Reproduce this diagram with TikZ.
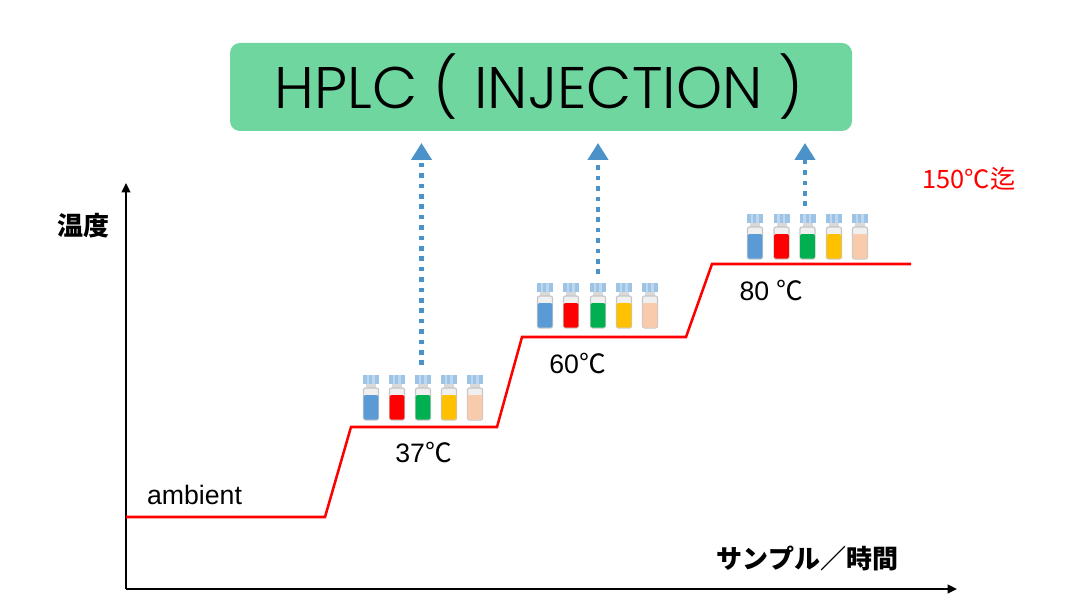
\documentclass[tikz,border=0pt]{standalone}
\usepackage{fontspec}
\setmainfont{Liberation Sans}
\newfontfamily\cjk{Noto Sans CJK JP}
\newfontfamily\hplcfont{Poppins Light}
\usetikzlibrary{positioning,arrows.meta}
\definecolor{hplcgreen}{HTML}{70D6A0}
\definecolor{dotblue}{HTML}{4A92C8}
\definecolor{capblue}{HTML}{9DC3E6}
\definecolor{capstripe}{HTML}{BDD7EE}
\definecolor{vialblue}{HTML}{5B9BD5}
\definecolor{vialred}{HTML}{FF0000}
\definecolor{vialgreen}{HTML}{00B050}
\definecolor{vialyellow}{HTML}{FFC000}
\definecolor{vialpeach}{HTML}{F8CBAD}
\tikzstyle{hplcbox}=[rectangle, rounded corners=7.5pt, fill=hplcgreen, minimum width=466.5pt,
                    minimum height=66pt, inner sep=0pt, text centered]
\tikzstyle{axis}=[-{Triangle[width=6.5pt,length=7pt]}, black, line width=1.5pt]
\tikzstyle{rampline}=[-, red, line width=1.9pt, line join=miter]
\tikzstyle{injline}=[-{Triangle[width=15pt,length=12.75pt]}, dotblue, line width=3.6pt,
                    dash pattern=on 3.5pt off 4.3pt]
\tikzstyle{templabel}=[inner sep=0pt, font=\fontsize{20}{22}\selectfont]
\tikzstyle{axislabel}=[inner sep=0pt, font=\cjk\bfseries\fontsize{19.5}{22}\selectfont]
\tikzset{
  vial/.pic={
    \fill[capblue] (-8,-45) rectangle (8,-36);
    \fill[capstripe] (-4.5,-45) rectangle (-2,-36);
    \fill[capstripe] (1,-45) rectangle (3.5,-36);
    \fill[gray!30] (-5,-36) rectangle (5,-31);
    \draw[gray!45, fill=gray!12, line width=.9pt, rounded corners=1.5pt] (-7.5,-32) rectangle (7.5,0);
    \fill[#1, rounded corners=1pt] (-7.3,-25) rectangle (7.3,-.5);
  }
}
\begin{document}
\begin{tikzpicture}[x=0.75pt,y=-0.75pt]
\useasboundingbox (0,0) rectangle (1084,599);

\node (HPLC) [hplcbox] at (541,87) {\hspace*{-3pt}\hplcfont\fontsize{44}{48}\selectfont HPLC ( INJECTION )};

% axes
\coordinate (ORIGIN) at (126,589);
\coordinate (YEND) at (126,183);
\coordinate (XEND) at (957,589);
\draw[axis] (ORIGIN) -- (YEND);
\draw[axis] (ORIGIN) -- (XEND);
\node (YLABEL) [axislabel] at (83,226) {温度};
\node (XLABEL) [axislabel] at (807.5,558) {サンプル／時間};

% temperature steps
\coordinate (START) at (126,517);
\coordinate (FINISH) at (911,264);
\draw[rampline] (START) -- (325,517) -- (351,427) -- (497,427) -- (522,337) -- (686,337) -- (712,264) -- (FINISH);

\node (AMB) [templabel] at (194.5,495) {ambient};
\node (TA) [templabel] at (423.5,452) {37\cjk℃};
\node (TB) [templabel] at (577.5,363) {60\cjk℃};
\node (TC) [templabel] at (771.5,290) {80 \cjk℃};
\node (TMAX) [inner sep=0pt, red, font=\cjk\fontsize{19}{22}\selectfont] at (969,179) {150℃迄};

% vials
\pic at (371,420) {vial=vialblue};
\pic at (397,420) {vial=vialred};
\pic at (423,420) {vial=vialgreen};
\pic at (449,420) {vial=vialyellow};
\pic at (475,420) {vial=vialpeach};
\pic at (545,328) {vial=vialblue};
\pic at (571,328) {vial=vialred};
\pic at (598,328) {vial=vialgreen};
\pic at (624,328) {vial=vialyellow};
\pic at (650,328) {vial=vialpeach};
\pic at (755,259) {vial=vialblue};
\pic at (781.5,259) {vial=vialred};
\pic at (807.5,259) {vial=vialgreen};
\pic at (834,259) {vial=vialyellow};
\pic at (860,259) {vial=vialpeach};

% injections
\coordinate (INJA) at (421.5,365);
\coordinate (INJB) at (598,274);
\coordinate (INJC) at (805,206);
\coordinate (TIPA) at (421.5,143);
\coordinate (TIPB) at (598,143);
\coordinate (TIPC) at (805,143);
\draw[injline] (INJA) -- (TIPA);
\draw[injline] (INJB) -- (TIPB);
\draw[injline] (INJC) -- (TIPC);

\end{tikzpicture}
\end{document}
